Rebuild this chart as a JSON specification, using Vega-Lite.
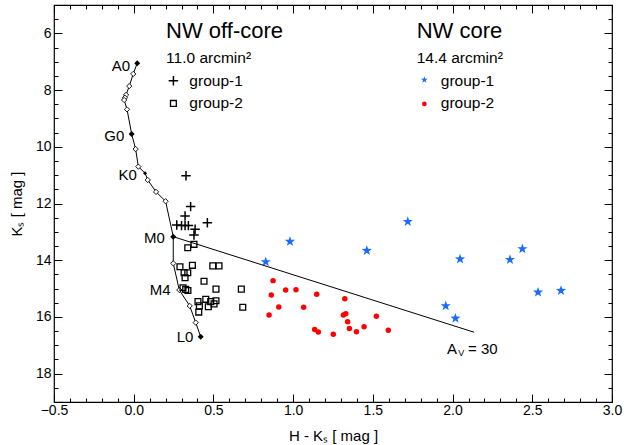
{
  "$schema": "https://vega.github.io/schema/vega-lite/v6.json",
  "width": 558,
  "height": 397,
  "autosize": {"type": "none"},
  "padding": {"left": 54, "top": 5, "right": 12, "bottom": 43},
  "background": "white",
  "config": {
    "font": "Liberation Sans",
    "view": {"stroke": "black", "strokeWidth": 1.2},
    "axis": {"domain": false, "grid": false, "labelColor": "black", "titleColor": "black", "tickColor": "black", "labelFontSize": 14, "titleFontSize": 15, "titleFontWeight": "normal"}
  },
  "datasets": {
    "track": [
      {"hk": 0.022, "ks": 7.05, "seq": 1, "kind": "major"},
      {"hk": -0.003, "ks": 7.43, "seq": 2, "kind": "minor"},
      {"hk": -0.028, "ks": 7.86, "seq": 3, "kind": "minor"},
      {"hk": -0.048, "ks": 8.17, "seq": 4, "kind": "minor"},
      {"hk": -0.055, "ks": 8.27, "seq": 5, "kind": "minor"},
      {"hk": -0.06, "ks": 8.35, "seq": 6, "kind": "minor"},
      {"hk": -0.042, "ks": 8.68, "seq": 7, "kind": "minor"},
      {"hk": -0.013, "ks": 9.55, "seq": 8, "kind": "major"},
      {"hk": 0.012, "ks": 10.08, "seq": 9, "kind": "minor"},
      {"hk": 0.029, "ks": 10.7, "seq": 10, "kind": "minor"},
      {"hk": 0.071, "ks": 10.93, "seq": 11, "kind": "small"},
      {"hk": 0.088, "ks": 11.17, "seq": 12, "kind": "minor"},
      {"hk": 0.14, "ks": 11.59, "seq": 13, "kind": "minor"},
      {"hk": 0.2, "ks": 11.92, "seq": 14, "kind": "minor"},
      {"hk": 0.248, "ks": 13.17, "seq": 15, "kind": "major"},
      {"hk": 0.248, "ks": 14.11, "seq": 16, "kind": "minor"},
      {"hk": 0.286, "ks": 15.05, "seq": 17, "kind": "minor"},
      {"hk": 0.351, "ks": 15.61, "seq": 18, "kind": "minor"},
      {"hk": 0.389, "ks": 16.2, "seq": 19, "kind": "minor"},
      {"hk": 0.42, "ks": 16.7, "seq": 20, "kind": "major"}
    ],
    "redvec": [
      {"hk": 0.248, "ks": 13.17},
      {"hk": 2.135, "ks": 16.54}
    ],
    "pts": [
      {"hk": 0.328, "ks": 11.02, "g": "o1"}, {"hk": 0.357, "ks": 12.11, "g": "o1"}, {"hk": 0.322, "ks": 12.44, "g": "o1"},
      {"hk": 0.27, "ks": 12.76, "g": "o1"}, {"hk": 0.3, "ks": 12.78, "g": "o1"}, {"hk": 0.322, "ks": 12.78, "g": "o1"},
      {"hk": 0.343, "ks": 12.78, "g": "o1"}, {"hk": 0.462, "ks": 12.68, "g": "o1"}, {"hk": 0.385, "ks": 12.91, "g": "o1"},
      {"hk": 0.378, "ks": 13.11, "g": "o1"},
      {"hk": 0.378, "ks": 13.44, "g": "o2"}, {"hk": 0.339, "ks": 13.56, "g": "o2"}, {"hk": 0.29, "ks": 14.23, "g": "o2"},
      {"hk": 0.368, "ks": 14.18, "g": "o2"}, {"hk": 0.496, "ks": 14.2, "g": "o2"}, {"hk": 0.535, "ks": 14.2, "g": "o2"},
      {"hk": 0.316, "ks": 14.44, "g": "o2"}, {"hk": 0.339, "ks": 14.44, "g": "o2"}, {"hk": 0.322, "ks": 14.62, "g": "o2"},
      {"hk": 0.441, "ks": 14.74, "g": "o2"}, {"hk": 0.309, "ks": 14.97, "g": "o2"}, {"hk": 0.326, "ks": 15.03, "g": "o2"},
      {"hk": 0.34, "ks": 15.07, "g": "o2"}, {"hk": 0.516, "ks": 15.02, "g": "o2"}, {"hk": 0.675, "ks": 15.02, "g": "o2"},
      {"hk": 0.403, "ks": 15.46, "g": "o2"}, {"hk": 0.452, "ks": 15.38, "g": "o2"}, {"hk": 0.483, "ks": 15.46, "g": "o2"},
      {"hk": 0.516, "ks": 15.43, "g": "o2"}, {"hk": 0.412, "ks": 15.61, "g": "o2"}, {"hk": 0.468, "ks": 15.64, "g": "o2"},
      {"hk": 0.504, "ks": 15.54, "g": "o2"}, {"hk": 0.408, "ks": 15.83, "g": "o2"}, {"hk": 0.684, "ks": 15.66, "g": "o2"},
      {"hk": 0.828, "ks": 14.06, "g": "c1"}, {"hk": 0.98, "ks": 13.34, "g": "c1"}, {"hk": 1.462, "ks": 13.66, "g": "c1"},
      {"hk": 1.719, "ks": 12.64, "g": "c1"}, {"hk": 2.047, "ks": 13.96, "g": "c1"}, {"hk": 2.36, "ks": 13.98, "g": "c1"},
      {"hk": 2.438, "ks": 13.6, "g": "c1"}, {"hk": 2.536, "ks": 15.13, "g": "c1"}, {"hk": 2.68, "ks": 15.07, "g": "c1"},
      {"hk": 1.957, "ks": 15.61, "g": "c1"}, {"hk": 2.018, "ks": 16.05, "g": "c1"},
      {"hk": 0.874, "ks": 14.72, "g": "c2"}, {"hk": 0.863, "ks": 15.23, "g": "c2"}, {"hk": 0.953, "ks": 15.05, "g": "c2"},
      {"hk": 1.018, "ks": 15.04, "g": "c2"}, {"hk": 1.148, "ks": 15.2, "g": "c2"}, {"hk": 0.91, "ks": 15.65, "g": "c2"},
      {"hk": 1.066, "ks": 15.66, "g": "c2"}, {"hk": 0.849, "ks": 15.93, "g": "c2"}, {"hk": 1.135, "ks": 16.44, "g": "c2"},
      {"hk": 1.158, "ks": 16.53, "g": "c2"}, {"hk": 1.252, "ks": 16.61, "g": "c2"}, {"hk": 1.324, "ks": 15.36, "g": "c2"},
      {"hk": 1.315, "ks": 15.93, "g": "c2"}, {"hk": 1.33, "ks": 15.89, "g": "c2"}, {"hk": 1.342, "ks": 16.17, "g": "c2"},
      {"hk": 1.353, "ks": 16.41, "g": "c2"}, {"hk": 1.397, "ks": 16.52, "g": "c2"}, {"hk": 1.445, "ks": 16.35, "g": "c2"},
      {"hk": 1.522, "ks": 15.98, "g": "c2"}, {"hk": 1.597, "ks": 16.47, "g": "c2"},
      {"hk": 0.249, "ks": 7.67, "g": "o1"},
      {"hk": 0.249, "ks": 8.47, "g": "o2"},
      {"hk": 1.823, "ks": 7.64, "g": "c1s"},
      {"hk": 1.823, "ks": 8.49, "g": "c2s"}
    ],
    "texts": [
      {"hk": -0.023, "ks": 7.14, "label": "A0", "t": "sp"},
      {"hk": -0.059, "ks": 9.62, "label": "G0", "t": "sp"},
      {"hk": 0.019, "ks": 11.0, "label": "K0", "t": "sp"},
      {"hk": 0.196, "ks": 13.23, "label": "M0", "t": "sp"},
      {"hk": 0.232, "ks": 15.05, "label": "M4", "t": "sp"},
      {"hk": 0.374, "ks": 16.7, "label": "L0", "t": "sp"},
      {"hk": 0.203, "ks": 5.9, "label": "NW off-core", "t": "title"},
      {"hk": 1.775, "ks": 5.9, "label": "NW core", "t": "title"},
      {"hk": 0.203, "ks": 6.88, "label": "11.0 arcmin²", "t": "sub"},
      {"hk": 1.775, "ks": 6.88, "label": "14.4 arcmin²", "t": "sub"},
      {"hk": 0.349, "ks": 7.67, "label": "group-1", "t": "sub"},
      {"hk": 0.349, "ks": 8.47, "label": "group-2", "t": "sub"},
      {"hk": 1.926, "ks": 7.67, "label": "group-1", "t": "sub"},
      {"hk": 1.926, "ks": 8.47, "label": "group-2", "t": "sub"},
      {"hk": 1.965, "ks": 17.13, "label": "A", "t": "sp2"},
      {"hk": 2.035, "ks": 17.28, "label": "V", "t": "small"},
      {"hk": 2.097, "ks": 17.13, "label": "= 30", "t": "sp2"}
    ]
  },
  "resolve": {"axis": {"x": "independent", "y": "independent"}},
  "layer": [
    {
      "encoding": {
        "x": {
          "field": "hk", "type": "quantitative",
          "scale": {"domain": [-0.5, 3.0], "nice": false, "zero": false},
          "axis": {
            "orient": "bottom",
            "title": "H - Kₛ   [ mag ]",
            "titlePadding": 7,
            "values": [-0.5,-0.4,-0.3,-0.2,-0.1,0,0.1,0.2,0.3,0.4,0.5,0.6,0.7,0.8,0.9,1,1.1,1.2,1.3,1.4,1.5,1.6,1.7,1.8,1.9,2,2.1,2.2,2.3,2.4,2.5,2.6,2.7,2.8,2.9,3],
            "labelExpr": "abs(datum.value*2 - round(datum.value*2)) < 0.001 ? format(datum.value, '.1f') : ''",
            "tickSize": {"condition": {"test": "abs(datum.value*2 - round(datum.value*2)) < 0.001", "value": -8}, "value": -4},
            "labelPadding": 9,
            "labelFlush": false,
            "labelOverlap": false
          }
        },
        "y": {
          "field": "ks", "type": "quantitative",
          "scale": {"domain": [5, 19], "reverse": true, "nice": false, "zero": false},
          "axis": {
            "orient": "left",
            "title": "Kₛ   [ mag ]",
            "titlePadding": 11,
            "values": [5,5.5,6,6.5,7,7.5,8,8.5,9,9.5,10,10.5,11,11.5,12,12.5,13,13.5,14,14.5,15,15.5,16,16.5,17,17.5,18,18.5,19],
            "labelExpr": "datum.value % 2 === 0 && datum.value > 5 && datum.value < 19 ? format(datum.value, 'd') : ''",
            "tickSize": {"condition": {"test": "datum.value % 2 === 0", "value": -8}, "value": -4},
            "labelPadding": 11,
            "labelFlush": false,
            "labelOverlap": false
          }
        }
      },
      "layer": [
        {
          "data": {"name": "track"},
          "mark": {"type": "line", "color": "black", "strokeWidth": 1},
          "encoding": {"order": {"field": "seq", "type": "quantitative"}}
        },
        {
          "data": {"name": "track"},
          "transform": [{"filter": "datum.kind === 'minor'"}],
          "mark": {"type": "point", "shape": "diamond", "filled": true, "fill": "white", "stroke": "black", "strokeWidth": 0.9, "size": 28, "opacity": 1}
        },
        {
          "data": {"name": "track"},
          "transform": [{"filter": "datum.kind === 'major'"}],
          "mark": {"type": "point", "shape": "diamond", "filled": true, "color": "black", "size": 36, "opacity": 1}
        },
        {
          "data": {"name": "track"},
          "transform": [{"filter": "datum.kind === 'small'"}],
          "mark": {"type": "point", "shape": "diamond", "filled": true, "color": "black", "size": 16, "opacity": 1}
        },
        {
          "data": {"name": "pts"},
          "transform": [{"filter": "datum.g === 'o1'"}],
          "mark": {"type": "point", "shape": "M-1,0H1M0,-1V1", "filled": false, "stroke": "black", "strokeWidth": 1.5, "size": 90, "opacity": 1}
        },
        {
          "data": {"name": "pts"},
          "transform": [{"filter": "datum.g === 'o2'"}],
          "mark": {"type": "point", "shape": "square", "filled": false, "stroke": "black", "strokeWidth": 1.3, "size": 34, "opacity": 1}
        },
        {
          "data": {"name": "pts"},
          "transform": [{"filter": "datum.g === 'c1'"}],
          "mark": {"type": "point", "shape": "M0,-1L0.235,-0.324L0.951,-0.309L0.38,0.124L0.588,0.809L0,0.4L-0.588,0.809L-0.38,0.124L-0.951,-0.309L-0.235,-0.324Z", "filled": true, "color": "#1a6cff", "size": 115, "opacity": 1}
        },
        {
          "data": {"name": "pts"},
          "transform": [{"filter": "datum.g === 'c1s'"}],
          "mark": {"type": "point", "shape": "M0,-1L0.235,-0.324L0.951,-0.309L0.38,0.124L0.588,0.809L0,0.4L-0.588,0.809L-0.38,0.124L-0.951,-0.309L-0.235,-0.324Z", "filled": true, "color": "#1a6cff", "size": 50, "opacity": 1}
        },
        {
          "data": {"name": "pts"},
          "transform": [{"filter": "datum.g === 'c2'"}],
          "mark": {"type": "point", "shape": "circle", "filled": true, "color": "#ff0000", "size": 30, "opacity": 1}
        },
        {
          "data": {"name": "pts"},
          "transform": [{"filter": "datum.g === 'c2s'"}],
          "mark": {"type": "point", "shape": "circle", "filled": true, "color": "#ff0000", "size": 22, "opacity": 1}
        },
        {
          "data": {"name": "texts"},
          "transform": [{"filter": "datum.t === 'sp'"}],
          "mark": {"type": "text", "align": "right", "baseline": "middle", "fontSize": 15, "color": "black"},
          "encoding": {"text": {"field": "label"}}
        },
        {
          "data": {"name": "texts"},
          "transform": [{"filter": "datum.t === 'sp2'"}],
          "mark": {"type": "text", "align": "left", "baseline": "middle", "fontSize": 15, "color": "black"},
          "encoding": {"text": {"field": "label"}}
        },
        {
          "data": {"name": "texts"},
          "transform": [{"filter": "datum.t === 'small'"}],
          "mark": {"type": "text", "align": "left", "baseline": "middle", "fontSize": 9, "color": "black"},
          "encoding": {"text": {"field": "label"}}
        },
        {
          "data": {"name": "texts"},
          "transform": [{"filter": "datum.t === 'title'"}],
          "mark": {"type": "text", "align": "left", "baseline": "middle", "fontSize": 22, "color": "black"},
          "encoding": {"text": {"field": "label"}}
        },
        {
          "data": {"name": "texts"},
          "transform": [{"filter": "datum.t === 'sub'"}],
          "mark": {"type": "text", "align": "left", "baseline": "middle", "fontSize": 15.5, "color": "black"},
          "encoding": {"text": {"field": "label"}}
        }
      ]
    },
    {
      "data": {"name": "redvec"},
      "mark": {"type": "line", "color": "black", "strokeWidth": 1},
      "encoding": {
        "x": {
          "field": "hk", "type": "quantitative",
          "axis": {
            "orient": "top", "title": null, "labels": false,
            "values": [-0.5,-0.4,-0.3,-0.2,-0.1,0,0.1,0.2,0.3,0.4,0.5,0.6,0.7,0.8,0.9,1,1.1,1.2,1.3,1.4,1.5,1.6,1.7,1.8,1.9,2,2.1,2.2,2.3,2.4,2.5,2.6,2.7,2.8,2.9,3],
            "tickSize": {"condition": {"test": "abs(datum.value*2 - round(datum.value*2)) < 0.001", "value": -8}, "value": -4}
          }
        },
        "y": {
          "field": "ks", "type": "quantitative",
          "axis": {
            "orient": "right", "title": null, "labels": false,
            "values": [5,5.5,6,6.5,7,7.5,8,8.5,9,9.5,10,10.5,11,11.5,12,12.5,13,13.5,14,14.5,15,15.5,16,16.5,17,17.5,18,18.5,19],
            "tickSize": {"condition": {"test": "datum.value % 2 === 0", "value": -8}, "value": -4}
          }
        }
      }
    }
  ]
}
